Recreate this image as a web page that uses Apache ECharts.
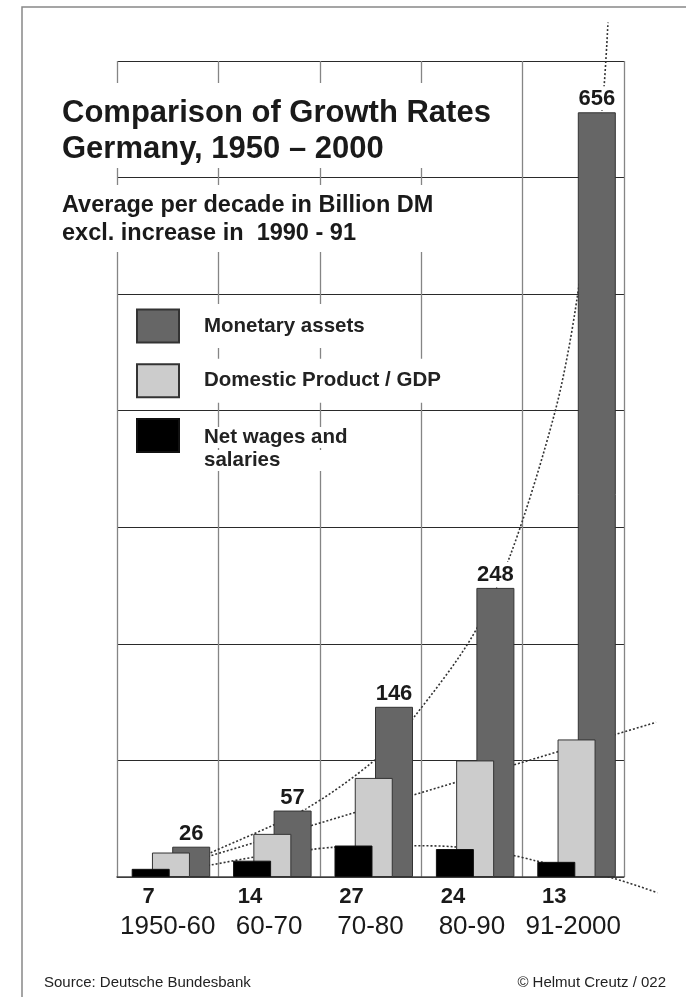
<!DOCTYPE html>
<html>
<head>
<meta charset="utf-8">
<script src="https://cdn.jsdelivr.net/npm/echarts@6/dist/echarts.min.js"></script>
<style>
html,body{margin:0;padding:0;background:#fff;}
#chart{width:686px;height:997px;}
</style>
</head>
<body>
<div id="chart"></div>
<script>
// ---- data ----
const categories = ['1950-60', '60-70', '70-80', '80-90', '91-2000'];
const monetaryAssets = [26, 57, 146, 248, 656];
const domesticProduct = [21, 37, 85, 100, 118];
const netWages = [7, 14, 27, 24, 13];
// dotted trend curves: [position along the decades (0..5), value]
const monetaryTrend = [[0.78, 15], [0.924, 20.8], [1.854, 58.1], [2.544, 100.4], [2.922, 136.4], [3.506, 206.7], [3.892, 279.1], [4.32, 399.2], [4.517, 485], [4.783, 658], [4.842, 733]];
const gdpTrend = [[0.78, 14.5], [5.316, 132.7]];
const wagesTrend = [[0.78, 8], [0.924, 10.3], [1.378, 17.4], [1.93, 23.7], [2.123, 25.4], [2.916, 26.8], [3.323, 25.9], [3.882, 18.9], [4.125, 14.0], [4.894, -1.1], [5.33, -13.5]];
const yTicks = {min: 0, max: 700, interval: 100};

const FONT = '"Liberation Sans", Arial, Helvetica, sans-serif';
const chart = echarts.init(document.getElementById('chart'), null, {renderer: 'canvas'});

// layout of the plot
const W = 686, GRID_L = 117, GRID_R = 62;
const decadeWidth = (W - GRID_L - GRID_R) / categories.length;
// the trend overlay grid reaches to the page edge, keeping the same decade scale
const trendMax = (W - GRID_L) / decadeWidth;

const barGap = '-46.7%';
const trendStyle = {color: '#333333', width: 1.6, type: [2, 2]};

const option = {
  animation: false,
  backgroundColor: '#ffffff',
  textStyle: {fontFamily: FONT},
  graphic: [{
    type: 'polyline', silent: true, z: 0,
    shape: {points: [[22, 997], [22, 7], [686, 7]]},
    style: {stroke: '#888888', lineWidth: 1.5, fill: 'none'}
  }],
  title: [
    {
      text: 'Comparison of Growth Rates\nGermany, 1950 – 2000',
      left: 55, top: 83, padding: [12, 12, 1, 7],
      backgroundColor: '#ffffff',
      textStyle: {fontFamily: FONT, fontSize: 31, fontWeight: 'bold', lineHeight: 36, color: '#1a1a1a'}
    },
    {
      text: 'Average per decade in Billion DM\nexcl. increase in  1990 - 91',
      left: 55, top: 185, padding: [7, 7, 4, 7],
      backgroundColor: '#ffffff',
      textStyle: {fontFamily: FONT, fontSize: 23.5, fontWeight: 'bold', lineHeight: 28, color: '#1a1a1a'}
    },
    {
      text: 'Source: Deutsche Bundesbank',
      left: 44, top: 975, padding: 0,
      textStyle: {fontFamily: FONT, fontSize: 15, fontWeight: 'normal', color: '#222'}
    },
    {
      text: '© Helmut Creutz / 022',
      right: 20, top: 975, padding: 0,
      textStyle: {fontFamily: FONT, fontSize: 15, fontWeight: 'normal', color: '#222'}
    }
  ],
  legend: [
    {
      data: ['Monetary assets', 'Domestic Product / GDP'],
      orient: 'vertical', left: 136, top: 304, padding: 0,
      icon: 'rect',
      itemWidth: 42, itemHeight: 33, itemGap: 10.7,
      selectedMode: false,
      textStyle: {fontFamily: FONT, fontSize: 20.5, fontWeight: 'bold', color: '#222',
        lineHeight: 24, backgroundColor: '#ffffff', padding: [10, 8, 10, 20]}
    },
    {
      data: ['Net wages and salaries'],
      orient: 'vertical', left: 136, top: 399, padding: 0,
      icon: 'rect',
      itemWidth: 42, itemHeight: 33,
      selectedMode: false,
      formatter: function () { return '{a|Net wages and}\n{a|salaries}'; },
      textStyle: {fontFamily: FONT, fontSize: 20.5, fontWeight: 'bold', color: '#222',
        backgroundColor: 'transparent', padding: [27, 0, 0, 20],
        rich: {a: {fontFamily: FONT, fontSize: 20.5, fontWeight: 'bold', color: '#222',
          lineHeight: 23, width: 165, backgroundColor: '#ffffff'}}}
    }
  ],
  grid: [
    {left: GRID_L, right: GRID_R, top: 61, bottom: 120, containLabel: false},
    {left: GRID_L, right: 0, top: 61, bottom: 120, containLabel: false}
  ],
  xAxis: [
    {
      type: 'category', data: categories, gridIndex: 0,
      axisLine: {show: true, lineStyle: {color: '#444', width: 1.5}},
      axisTick: {show: false},
      axisLabel: {interval: 0, fontFamily: FONT, fontSize: 26, color: '#1a1a1a', margin: 37},
      splitLine: {show: true, interval: 0, lineStyle: {color: '#858585', width: 1.3}}
    },
    {type: 'value', gridIndex: 1, min: 0, max: trendMax, show: false}
  ],
  yAxis: [
    {
      type: 'value', gridIndex: 0, min: yTicks.min, max: yTicks.max, interval: yTicks.interval,
      axisLine: {show: false}, axisTick: {show: false}, axisLabel: {show: false},
      splitLine: {show: true, lineStyle: {color: '#2a2a2a', width: 1}}
    },
    {type: 'value', gridIndex: 1, min: yTicks.min, max: yTicks.max, show: false}
  ],
  series: [
    {type: 'line', name: 'trend-monetary', xAxisIndex: 1, yAxisIndex: 1, data: monetaryTrend, smooth: 0.3,
      symbol: 'none', clip: false, silent: true, z: 1, lineStyle: trendStyle},
    {type: 'line', name: 'trend-gdp', xAxisIndex: 1, yAxisIndex: 1, data: gdpTrend, smooth: false,
      symbol: 'none', clip: false, silent: true, z: 1, lineStyle: trendStyle},
    {type: 'line', name: 'trend-wages', xAxisIndex: 1, yAxisIndex: 1, data: wagesTrend, smooth: 0.3,
      symbol: 'none', clip: false, silent: true, z: 1, lineStyle: trendStyle},
    {type: 'bar', name: 'spacer', data: [], barWidth: 12.2, barGap: barGap, silent: true},
    {
      type: 'bar', name: 'Net wages and salaries', data: netWages, barWidth: 38, barGap: barGap, z: 5,
      itemStyle: {color: '#000000', borderColor: '#111', borderWidth: 1},
      label: {show: true, position: ['50%', '100%'], align: 'center', verticalAlign: 'top',
        offset: [-2, 9], fontFamily: FONT, fontSize: 22, fontWeight: 'bold', color: '#1a1a1a'}
    },
    {
      type: 'bar', name: 'Domestic Product / GDP', data: domesticProduct, barWidth: 38, barGap: barGap, z: 4,
      itemStyle: {color: '#cccccc', borderColor: '#333', borderWidth: 1}
    },
    {
      type: 'bar', name: 'Monetary assets', data: monetaryAssets, barWidth: 38, barGap: barGap, z: 3,
      itemStyle: {color: '#666666', borderColor: '#333', borderWidth: 1},
      label: {show: true, position: 'top', distance: 2, fontFamily: FONT, fontSize: 22, fontWeight: 'bold',
        color: '#1a1a1a', backgroundColor: '#ffffff', padding: [2, 2, 0, 2]}
    }
  ]
};
chart.setOption(option);
</script>
</body>
</html>
